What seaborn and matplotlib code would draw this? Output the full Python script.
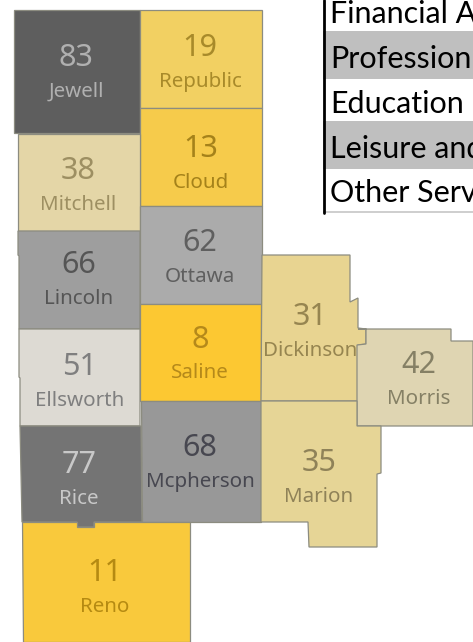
import matplotlib
matplotlib.use('Agg')
import matplotlib.pyplot as plt
import seaborn as sns

# County values
counties = ['Jewell', 'Republic', 'Cloud', 'Mitchell', 'Ottawa', 'Lincoln', 'Saline', 'Ellsworth',
            'Dickinson', 'Morris', 'Mcpherson', 'Rice', 'Marion', 'Reno']
values = [83, 19, 13, 38, 62, 66, 8, 51, 31, 42, 68, 77, 35, 11]

# County outlines, traced in image pixels
outlines = {
    'Jewell': [(14, 10), (140, 10), (140, 133), (14, 133)],
    'Republic': [(140, 10), (262, 10), (262, 108), (140, 108)],
    'Cloud': [(140, 108), (262, 108), (262, 206), (140, 206)],
    'Mitchell': [(18, 134), (140, 134), (140, 231), (18, 231)],
    'Ottawa': [(140, 206), (262, 206), (262, 304), (140, 304)],
    'Lincoln': [(18, 231), (140, 231), (140, 329), (19, 329), (19, 256), (18, 255)],
    'Saline': [(140, 304), (261, 304), (261, 401), (140, 401)],
    'Ellsworth': [(19, 329), (140, 329), (140, 426), (20, 426), (20, 378), (19, 377)],
    'Dickinson': [(262, 255), (350, 255), (350, 302), (358, 298), (358, 328), (366, 329),
                  (366, 344), (358, 345), (358, 401), (261, 401)],
    'Morris': [(358, 329), (451, 329), (451, 341), (473, 341), (473, 426), (357, 426), (357, 345),
               (366, 344), (366, 329)],
    'Mcpherson': [(141, 401), (261, 401), (261, 522), (142, 522)],
    'Rice': [(20, 426), (141, 426), (142, 522), (94, 522), (94, 527), (77, 527), (77, 522), (22, 522)],
    'Marion': [(261, 401), (357, 401), (357, 426), (381, 426), (381, 473), (377, 474), (377, 547),
               (309, 547), (308, 522), (261, 522)],
    'Reno': [(22, 522), (77, 522), (77, 527), (94, 527), (94, 522), (190, 522), (190, 642), (23, 642)],
}

fills = ['#5E5E5E', '#F2D062', '#F6CB4B', '#E4D6A7', '#ABABAB', '#9E9E9E', '#FCC832', '#DDDAD3',
         '#E8D491', '#DFD5B2', '#989898', '#747474', '#E6D596', '#F9C93C']
text_colors = ['#B0B0B0', '#A88A2A', '#A5821A', '#9D8F62', '#5F5F5F', '#555555', '#B5891A', '#7F7F7F',
               '#968550', '#858065', '#474750', '#C8C8C8', '#8F8258', '#B58A12']

table_rows = ['Financial A', 'Profession', 'Education', 'Leisure and', 'Other Serv']

sns.set_theme(style='white')
plt.rcParams['font.family'] = ['Noto Sans', 'DejaVu Sans']

fig = plt.figure(figsize=(4.73, 6.42), dpi=100)
ax = fig.add_axes([0, 0, 1, 1])
ax.set_xlim(0, 473)
ax.set_ylim(642, 0)
ax.axis('off')

# Map
for name, fill in zip(counties, fills):
    xs, ys = zip(*outlines[name])
    ax.fill(xs, ys, facecolor=fill, edgecolor='#8C8C80', linewidth=0.9, zorder=2)

# Number and name centred in each county
number_pos = {
    'Jewell': (76, 56), 'Republic': (200, 46), 'Cloud': (201, 147), 'Mitchell': (78, 169),
    'Ottawa': (200, 241), 'Lincoln': (79, 263), 'Saline': (200, 338), 'Ellsworth': (80, 365),
    'Dickinson': (310, 315), 'Morris': (419, 363), 'Mcpherson': (200, 446), 'Rice': (79, 463),
    'Marion': (319, 461), 'Reno': (105, 571),
}
for name, val, col in zip(counties, values, text_colors):
    x, y = number_pos[name]
    ax.text(x, y + 2, str(val), ha='center', va='center', fontsize=22, color=col, zorder=3)
    ax.text(x, y + 35.5, name, ha='center', va='center', fontsize=14.8, color=col, zorder=3)

# Bit of table pasted top right
row_edges = [0, 31, 79, 121, 169, 211]
row_baselines = [23, 68, 113, 158, 202]
for i, label in enumerate(table_rows):
    top, bottom = row_edges[i], row_edges[i + 1]
    if i % 2 == 1:
        ax.fill_between([323, 473], top, bottom, color='#BFBFBF', linewidth=0, zorder=1)
    ax.text(330, row_baselines[i], label, ha='left', va='baseline', fontsize=22,
            color='black', family=['Lato', 'DejaVu Sans'], zorder=3, clip_on=True)
ax.fill_between([323, 473], 211, 213, color='#CFCFCF', linewidth=0, zorder=1)
ax.plot([324, 324], [0, 213], color='black', linewidth=2, zorder=3)

fig.savefig('out.png', dpi=100)
